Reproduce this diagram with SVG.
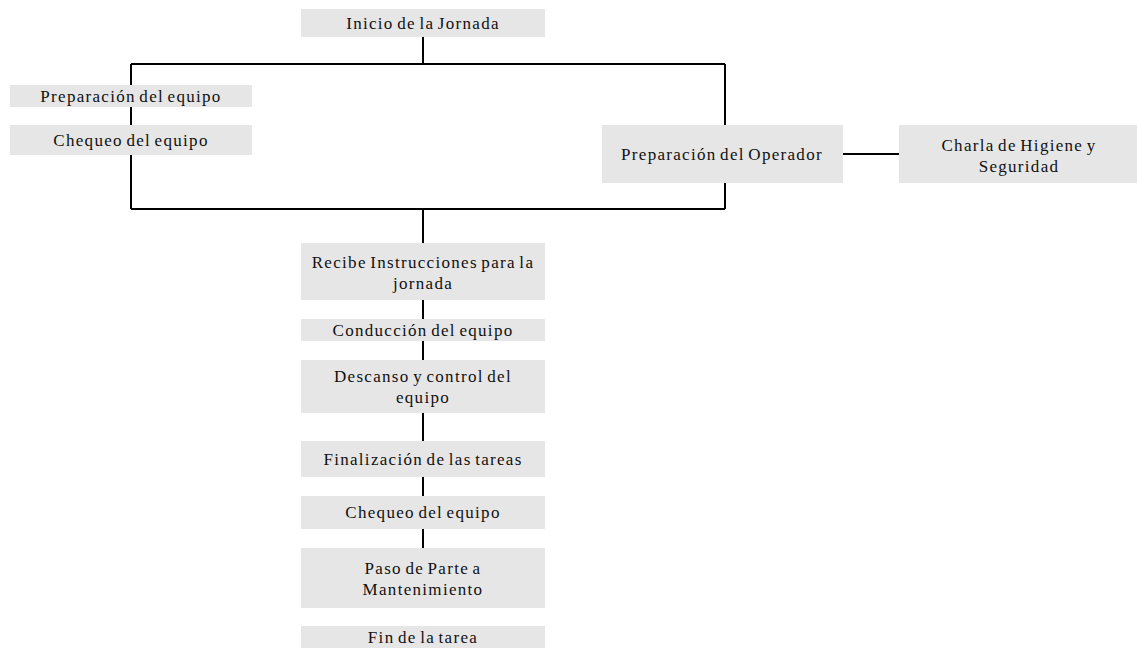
<svg xmlns="http://www.w3.org/2000/svg" width="1137" height="657" viewBox="0 0 1137 657">
<style>
.box{fill:#e6e6e6;stroke:none}
.t{font-family:'Liberation Serif','Times New Roman','DejaVu Serif',serif;font-size:17px;fill:#111;text-anchor:middle;letter-spacing:1.3px;word-spacing:-2px}
.c{stroke:#000;stroke-width:2;fill:none}
</style>
<rect width="1137" height="657" fill="#fff"/>
<g id="connectors">
<path class="c" d="M423 37V64M131 64H725M131 64V209M725 64V209M131 209H725M423 209V548M843 154H899"/>
</g>
<g id="n-inicio"><rect class="box" x="301" y="9" width="244" height="28"/><text class="t" x="423" y="29">Inicio de la Jornada</text></g>
<g id="n-prep-equipo"><rect class="box" x="10" y="85" width="242" height="22"/><text class="t" x="131" y="102">Preparación del equipo</text></g>
<g id="n-chequeo1"><rect class="box" x="10" y="125" width="242" height="30"/><text class="t" x="131" y="146">Chequeo del equipo</text></g>
<g id="n-prep-operador"><rect class="box" x="602" y="125" width="241" height="58"/><text class="t" x="722" y="160">Preparación del Operador</text></g>
<g id="n-charla"><rect class="box" x="899" y="125" width="238" height="58"/><text class="t" x="1019" y="151">Charla de Higiene y</text><text class="t" x="1019" y="172">Seguridad</text></g>
<g id="n-recibe"><rect class="box" x="301" y="243" width="244" height="57"/><text class="t" x="423" y="268">Recibe Instrucciones para la</text><text class="t" x="423" y="289">jornada</text></g>
<g id="n-conduccion"><rect class="box" x="301" y="319" width="244" height="22"/><text class="t" x="423" y="336">Conducción del equipo</text></g>
<g id="n-descanso"><rect class="box" x="301" y="360" width="244" height="53"/><text class="t" x="423" y="382">Descanso y control del</text><text class="t" x="423" y="403">equipo</text></g>
<g id="n-finalizacion"><rect class="box" x="301" y="441" width="244" height="36"/><text class="t" x="423" y="465">Finalización de las tareas</text></g>
<g id="n-chequeo2"><rect class="box" x="301" y="496" width="244" height="33"/><text class="t" x="423" y="518">Chequeo del equipo</text></g>
<g id="n-paso"><rect class="box" x="301" y="548" width="244" height="60"/><text class="t" x="423" y="574">Paso de Parte a</text><text class="t" x="423" y="595">Mantenimiento</text></g>
<g id="n-fin"><rect class="box" x="301" y="626" width="244" height="22"/><text class="t" x="423" y="643">Fin de la tarea</text></g>
</svg>
